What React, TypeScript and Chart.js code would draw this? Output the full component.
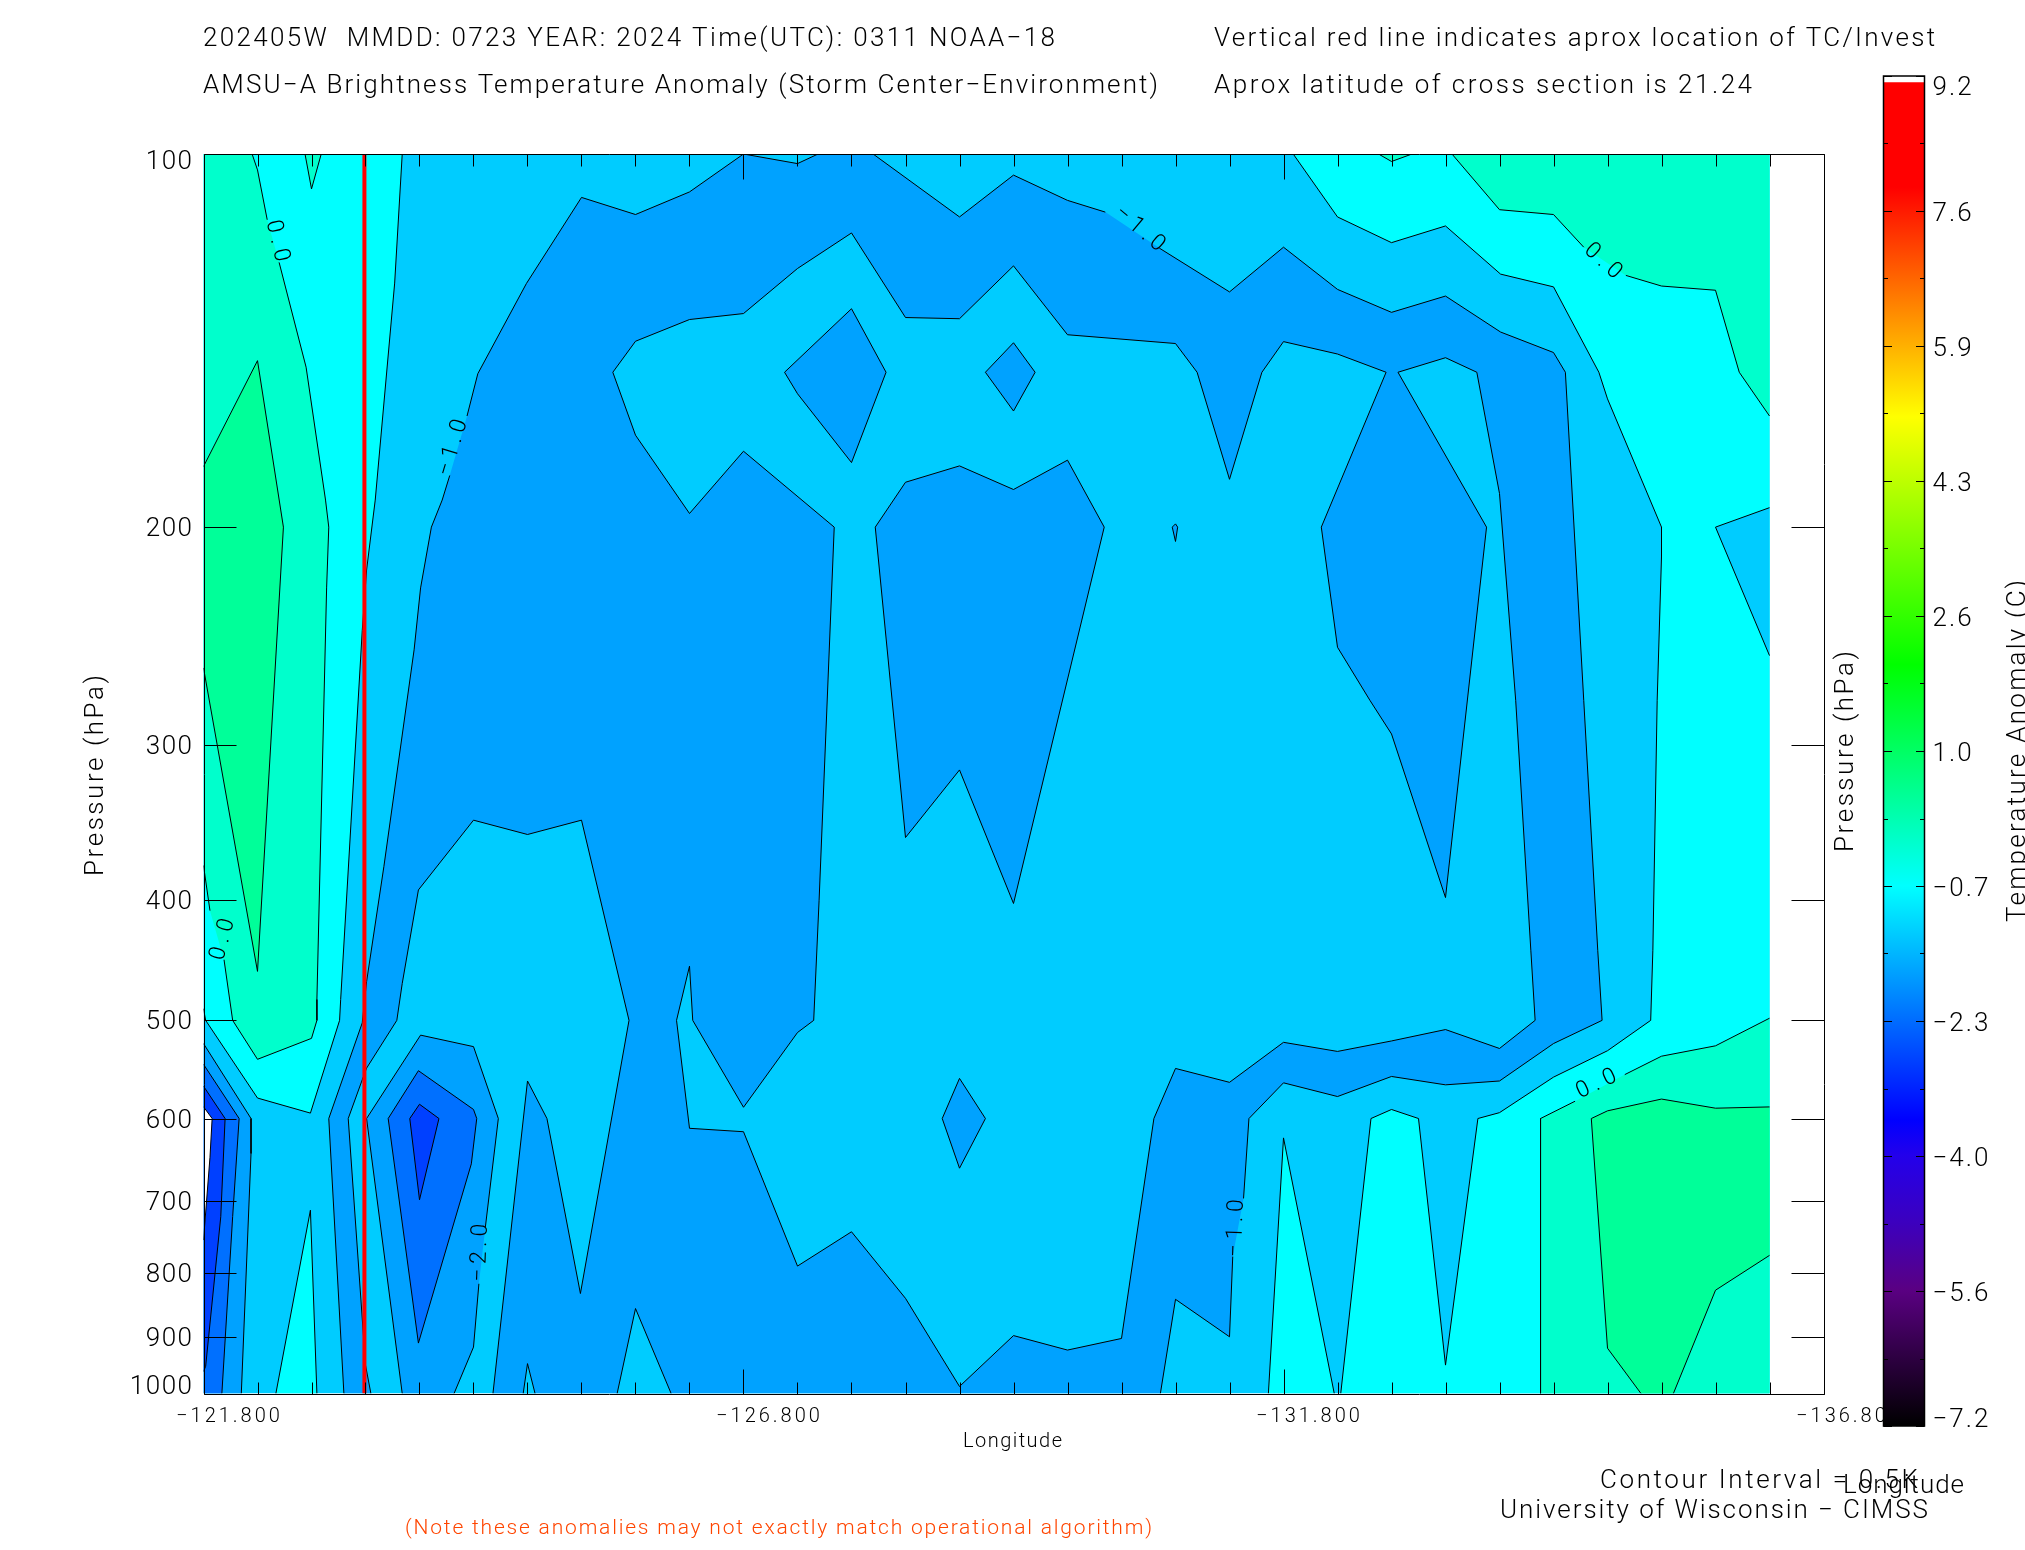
import React, { useEffect, useRef } from "react";
import { Chart, registerables } from "chart.js";
Chart.register(...registerables);

// ---------- data: contour outlines as [longitude, pressure, (1 = label gap after this vertex)] ----------
type V = number[];
const lonEast = -121.8, lonDataWest = -136.3, lonAxisWest = -136.8;
const pTop = 100, pBottom = 1000;
const stormLon = -123.29;
const pressureTicks = [100, 200, 300, 400, 500, 600, 700, 800, 900, 1000];
const lonLabelTicks = [-121.8, -126.8, -131.8, -136.8];

const AQUA = "#00FFCC", GREEN = "#00FF99", CYAN = "#00FFFF", LIGHT = "#00CCFF", MID = "#00A2FF", DEEP = "#0070FF", DARK = "#0040FF", WHITE = "#FFFFFF";

const domain: V[] = [[-121.8, 100], [-136.3, 100], [-136.3, 1000], [-121.8, 1000]];
const cyanWest: V[] = [[-121.8, 100], [-123.64, 100], [-123.57, 127.1], [-123.39, 190.2], [-123.31, 216.6], [-123.27, 242.3], [-123.07, 481], [-123.06, 500], [-122.79, 594], [-122.3, 577.6], [-121.82, 500], [-121.8, 489.3]];
const aquaWest: V[] = [[-121.8, 100], [-122.25, 100], [-122.3, 103], [-122.39, 113, 1], [-122.5, 122.3], [-122.75, 148.6], [-122.93, 190.2], [-122.96, 200], [-122.94, 223.9], [-122.85, 481], [-122.85, 500], [-122.8, 517], [-122.3, 537.5], [-122.07, 500], [-121.99, 446.7, 1], [-121.86, 407.8], [-121.8, 375]];
const greenWest: V[] = [[-121.8, 178.7], [-122.3, 146.8], [-122.54, 200], [-122.3, 456.5], [-121.8, 259.8]];
const aquaTopSpike: V[] = [[-122.74, 100], [-122.8, 106.7], [-122.89, 100]];
const cyanBottomSpike: V[] = [[-122.47, 1000], [-122.79, 711.4], [-122.85, 1000]];
const cyanEast: V[] = [[-131.89, 100], [-132.3, 112.4], [-132.8, 117.9], [-133.3, 114.3], [-133.81, 125], [-134.3, 128], [-134.72, 150], [-134.8, 157.6], [-135.3, 200], [-135.3, 211.3], [-135.26, 275.9], [-135.22, 438.9], [-135.2, 500], [-134.8, 529], [-134.3, 555.6], [-133.8, 593.5], [-133.6, 600], [-133.3, 948.6], [-133.05, 600], [-132.8, 590], [-132.61, 600], [-132.33, 1000], [-136.3, 1000], [-136.3, 100]];
const cyanSpikeEast: V[] = [[-131.66, 1000], [-131.8, 622], [-132.27, 1000]];
const lightEdgeBlob: V[] = [[-136.3, 192.9], [-135.8, 200], [-136.3, 253.9]];
const aquaNorthEast: V[] = [[-133.36, 100], [-133.8, 110.9], [-134.3, 111.9], [-134.58, 118.9, 1], [-134.97, 125.3], [-135.3, 127.8], [-135.8, 128.8], [-136.02, 150], [-136.3, 162.7], [-136.3, 100]];
const aquaTopWedge: V[] = [[-132.68, 100], [-132.8, 101.4], [-132.99, 100]];
const aquaSouthEast: V[] = [[-136.3, 498], [-135.8, 524.2], [-135.3, 534.4], [-134.96, 553, 1], [-134.5, 581], [-134.18, 600], [-134.18, 1000], [-136.3, 1000]];
const greenSouthEast: V[] = [[-136.3, 587.2], [-135.8, 588.6], [-135.3, 578.7], [-134.8, 591.5], [-134.65, 600], [-134.8, 919.3], [-135.11, 1000], [-135.41, 1000], [-135.8, 825.4], [-136.3, 773.7]];
const midMain: V[] = [[-124.79, 127.2], [-125.3, 108.4], [-125.8, 111.9], [-126.3, 107.3], [-126.8, 100], [-127.3, 101.8], [-127.49, 100], [-128.0, 100], [-128.8, 112.4], [-129.3, 104], [-129.8, 109], [-130.15, 111.4, 1], [-130.65, 119.1], [-131.3, 129.2], [-131.8, 118.9], [-132.3, 128.6], [-132.8, 134.2], [-133.3, 130.2], [-133.81, 139.2], [-134.3, 144.6], [-134.41, 150], [-134.58, 275.9], [-134.71, 439.3], [-134.75, 500], [-134.3, 522], [-133.8, 559.6], [-133.3, 563.6], [-132.8, 554.9], [-132.3, 576], [-131.8, 561.5], [-131.48, 600], [-131.43, 696, 1], [-131.33, 775.4], [-131.3, 900], [-130.8, 839.5], [-130.66, 1000], [-124.48, 1000], [-124.8, 559.6], [-124.98, 600], [-125.29, 830.5], [-125.74, 500], [-125.3, 344.7], [-124.8, 354], [-124.3, 344.7], [-123.79, 392.4], [-123.64, 466.9], [-123.59, 500], [-123.31, 546.4], [-123.27, 558.3], [-123.14, 600], [-123.3, 948.6], [-123.35, 1000], [-123.1, 1000], [-122.96, 600], [-123.27, 502.3], [-123.31, 465.3], [-123.47, 375.8], [-123.75, 251.2], [-123.81, 223.9], [-123.91, 200], [-124.01, 190.2], [-124.08, 181.7, 1], [-124.24, 162.7], [-124.34, 150.4]];
const lightSpikeA: V[] = [[-124.76, 1000], [-124.8, 946], [-124.87, 1000]];
const lightSpikeB: V[] = [[-125.63, 1000], [-125.8, 854], [-126.13, 1000]];
const lightCore: V[] = [[-125.59, 150], [-125.8, 141.6], [-126.3, 136], [-126.8, 134.5], [-127.3, 123.7], [-127.8, 115.8], [-128.3, 135.5], [-128.8, 135.8], [-129.3, 123.1], [-129.8, 139.9], [-130.8, 142.2], [-131.0, 150], [-131.3, 183], [-131.6, 150], [-131.8, 141.7], [-132.3, 145], [-132.75, 150], [-132.15, 200], [-132.3, 250], [-132.6, 275.9], [-132.8, 293.7], [-133.3, 398], [-133.68, 200], [-132.86, 150], [-133.3, 146], [-133.59, 150], [-133.8, 187.9], [-133.95, 275.9], [-134.09, 438.9], [-134.13, 500], [-133.8, 526.8], [-133.3, 508.6], [-132.8, 519.5], [-132.3, 529.7], [-131.8, 520.8], [-131.3, 561], [-130.8, 546.7], [-130.6, 600], [-130.3, 902.8], [-129.8, 922.5], [-129.3, 898], [-128.8, 987], [-128.3, 838], [-127.8, 740.5], [-127.3, 789.2], [-126.8, 614.9], [-126.3, 611], [-126.18, 500], [-126.3, 452.1], [-126.33, 500], [-126.8, 587.6], [-127.3, 511.4], [-127.45, 500], [-127.5, 400], [-127.64, 200], [-126.8, 173.7], [-126.3, 195], [-125.8, 168.6]];
const midDiamondA: V[] = [[-127.8, 133.3], [-128.12, 150], [-127.8, 177.4], [-127.3, 156.1], [-127.18, 150]];
const midDiamondB: V[] = [[-129.3, 142], [-129.5, 150], [-129.3, 161.2], [-129.04, 150]];
const midTooth: V[] = [[-128.02, 200], [-128.3, 184], [-128.8, 178.5], [-129.3, 186.5], [-129.8, 176.6], [-130.14, 200], [-129.3, 402.4], [-128.8, 314], [-128.3, 356]];
const midSpeck: V[] = [[-130.77, 200], [-130.8, 198.8], [-130.82, 200], [-130.8, 205.4]];
const midDiamondC: V[] = [[-128.8, 556.9], [-129.04, 600], [-128.8, 658], [-128.64, 600]];
const midPit: V[] = [[-123.31, 600], [-123.81, 513.9], [-124.3, 525], [-124.53, 600], [-124.41, 733.9, 1], [-124.35, 815.6], [-124.3, 917.4], [-124.12, 1000], [-123.64, 1000]];
const deepPit: V[] = [[-123.79, 549], [-124.3, 590], [-124.33, 600], [-124.28, 652.7], [-123.79, 910.6], [-123.51, 600]];
const darkPit: V[] = [[-123.8, 584.3], [-123.98, 600], [-123.8, 697.8], [-123.71, 600]];
const midEdge: V[] = [[-121.8, 522], [-122.24, 600], [-122.24, 640.3], [-122.15, 1000], [-121.8, 1000]];
const deepEdge: V[] = [[-121.8, 542.5], [-122.13, 600], [-122.07, 719.9], [-121.97, 1000], [-121.8, 1000]];
const darkEdge: V[] = [[-121.8, 565], [-122.0, 600], [-121.96, 720], [-121.82, 950.7], [-121.8, 960]];
const whiteEdge: V[] = [[-121.8, 587], [-121.88, 600], [-121.86, 644.8], [-121.8, 752]];

// paint order: first listed is painted first
const bands: [V[], string][] = [
  [domain, LIGHT], [cyanWest, CYAN], [aquaWest, AQUA], [greenWest, GREEN], [aquaTopSpike, AQUA], [cyanBottomSpike, CYAN],
  [cyanEast, CYAN], [cyanSpikeEast, CYAN], [lightEdgeBlob, LIGHT], [aquaNorthEast, AQUA], [aquaTopWedge, AQUA], [aquaSouthEast, AQUA], [greenSouthEast, GREEN],
  [midMain, MID], [lightSpikeA, LIGHT], [lightSpikeB, LIGHT], [lightCore, LIGHT], [midDiamondA, MID], [midDiamondB, MID], [midTooth, MID], [midSpeck, MID], [midDiamondC, MID],
  [midPit, MID], [deepPit, DEEP], [darkPit, DARK], [midEdge, MID], [deepEdge, DEEP], [darkEdge, DARK], [whiteEdge, WHITE],
];

const contourLabels: [string, number, number, number, number][] = [
  ["0.0", -122.5, 117.4, 77, 42], ["0.0", -121.96, 429.8, -75, 42], ["\u22121.0", -124.09, 172.4, -73, 58], ["\u22121.0", -130.48, 114.6, 40, 58],
  ["0.0", -134.77, 121.7, 42, 42], ["0.0", -134.69, 561, -25, 42], ["\u22122.0", -124.34, 770, -88, 58], ["\u22121.0", -131.34, 735.5, -88, 58],
];

// colour bar
const cbMin = -7.2, cbMax = 9.2, cbFillTop = 9.12;
const cbTickValues = [-7.2, -5.56, -3.92, -2.28, -0.64, 1.0, 2.64, 4.28, 5.92, 7.56, 9.2];
const cbTickLabels = ["\u22127.2", "\u22125.6", "\u22124.0", "\u22122.3", "\u22120.7", "1.0", "2.6", "4.3", "5.9", "7.6", "9.2"];
const cbMinorTicks = [-6.38, -4.74, -3.1, -1.46, 0.18, 1.82, 3.46, 5.1, 6.74, 8.38];
const cbStopValues = [-7.2, -5.55, -4.73, -3.91, -3.48, -0.64, 2.05, 5.06, 6.45, 7.85, 9.2];
const cbStopColors = ["#000000", "#5A0082", "#3C00BE", "#2300EB", "#0000FF", "#00FFFF", "#00FF00", "#FFFF00", "#FF8000", "#FF0000", "#FF0000"];

// text
const THIN = "Roboto";
const headerTexts: [string, number, number, number, number, string][] = [
  ["202405W  MMDD: 0723 YEAR: 2024 Time(UTC): 0311 NOAA\u221218", 203, 1055, 46, 26, "#000"],
  ["AMSU\u2212A Brightness Temperature Anomaly (Storm Center\u2212Environment)", 203, 1158, 93, 26, "#000"],
  ["Vertical red line indicates aprox location of TC/Invest", 1214, 1935, 46, 26, "#000"],
  ["Aprox latitude of cross section is 21.24", 1214, 1752, 93, 26, "#000"],
  ["Longitude", 963, 1062, 1447, 20, "#000"],
  ["Contour Interval = 0.5K", 1600, 1918, 1488, 26, "#000"],
  ["Longitude", 1843, 1964, 1493, 26, "#000"],
  ["University of Wisconsin \u2212 CIMSS", 1500, 1928, 1518, 26, "#000"],
  ["(Note these anomalies may not exactly match operational algorithm)", 405, 1152, 1534, 21, "#FF4500"],
];
const sideTexts: [string, number, number, number][] = [
  ["Pressure (hPa)", 103, 876, 675],
  ["Pressure (hPa)", 1853, 852, 651],
];
const cbTitle = "Temperature Anomaly (C)";

function fitText(ctx: any, text: string, x: number, y: number, len: number, font: string, color: string, rot = 0, center = false) {
  ctx.save();
  ctx.font = font;
  ctx.fillStyle = color;
  ctx.textBaseline = "alphabetic";
  ctx.textAlign = "left";
  ctx.letterSpacing = "0px";
  const w = ctx.measureText(text).width;
  ctx.letterSpacing = (len - w) / Math.max(1, text.length - 1) + "px";
  ctx.translate(x, y);
  ctx.rotate((rot * Math.PI) / 180);
  ctx.fillText(text, center ? -len / 2 : 0, center ? 8 : 0);
  ctx.restore();
}

function patchScale(scale: any, spacing: number, shifts: Record<string, number>, allShift = 0) {
  if (scale.__patched) return;
  scale.__patched = true;
  const draw = scale.drawLabels.bind(scale);
  scale.drawLabels = (ca: any) => {
    const c = scale.ctx;
    c.save();
    c.letterSpacing = spacing + "px";
    draw(ca);
    c.restore();
  };
  const comp = scale._computeLabelItems.bind(scale);
  scale._computeLabelItems = (ca: any) => {
    const items = comp(ca);
    items.forEach((o: any) => {
      o.options.translation[1] += allShift + (shifts[o.label] || 0);
    });
    return items;
  };
}

const framePlugin = {
  id: "frame",
  afterDatasetsDraw(chart: any) {
    const { ctx, chartArea: a, scales } = chart;
    ctx.save();
    ctx.strokeStyle = "#000";
    ctx.lineWidth = 1;
    const L = Math.round(a.left) + 0.5, R = Math.round(a.right) + 0.5, T = Math.round(a.top) + 0.5, B = Math.round(a.bottom) + 0.5;
    ctx.beginPath();
    ctx.rect(L, T, R - L, B - T);
    for (let k = 0; k <= 30; k++) {
      const lon = lonEast - k * 0.5;
      const x = Math.round(scales.x.getPixelForValue(lon)) + 0.5;
      const len = k % 10 === 0 ? 25 : 12;
      ctx.moveTo(x, T); ctx.lineTo(x, T + len);
      ctx.moveTo(x, B); ctx.lineTo(x, B - len);
    }
    for (const p of pressureTicks) {
      const y = Math.round(scales.y.getPixelForValue(p)) + 0.5;
      ctx.moveTo(L, y); ctx.lineTo(L + 32, y);
      ctx.moveTo(R, y); ctx.lineTo(R - 33, y);
    }
    ctx.stroke();
    ctx.restore();
    for (const [t, lon, p, rot, len] of contourLabels) {
      fitText(ctx, t, scales.x.getPixelForValue(lon), scales.y.getPixelForValue(p), len, `300 23px ${THIN}`, "#000", rot, true);
    }
    for (const [t, x0, x1, y, size, color] of headerTexts) fitText(ctx, t, x0, y, x1 - x0, `300 ${size}px ${THIN}`, color);
    for (const [t, x, y0, y1] of sideTexts) fitText(ctx, t, x, y0, y0 - y1, `300 26px ${THIN}`, "#000", -90);
  },
};

const cbPlugin = {
  id: "cbFrame",
  afterDatasetsDraw(chart: any) {
    const { ctx, chartArea: a, scales } = chart;
    ctx.save();
    ctx.strokeStyle = "#000";
    ctx.lineWidth = 1.5;
    ctx.strokeRect(a.left, a.top, a.right - a.left, a.bottom - a.top);
    ctx.lineWidth = 1;
    ctx.beginPath();
    for (const v of cbTickValues) {
      const y = Math.round(scales.y.getPixelForValue(v)) + 0.5;
      ctx.moveTo(a.left, y); ctx.lineTo(a.left + 8.5, y);
      ctx.moveTo(a.right, y); ctx.lineTo(a.right - 8.5, y);
    }
    for (const v of cbMinorTicks) {
      const y = Math.round(scales.y.getPixelForValue(v)) + 0.5;
      ctx.moveTo(a.left, y); ctx.lineTo(a.left + 4.5, y);
      ctx.moveTo(a.right, y); ctx.lineTo(a.right - 4.5, y);
    }
    ctx.stroke();
    ctx.restore();
    fitText(ctx, cbTitle, 175, 862, 342, `300 26px ${THIN}`, "#000", -90);
  },
};

const closed = (pts: V[]) => [...pts, pts[0]];

export default function App() {
  const mainRef = useRef<HTMLCanvasElement>(null);
  const barRef = useRef<HTMLCanvasElement>(null);
  useEffect(() => {
    const n = bands.length;
    const datasets: any[] = [];
    bands.forEach(([pts, color], i) => {
      const ring = closed(pts);
      const data = ring.map((v) => ({ x: v[0], y: v[1] }));
      // the filled area
      datasets.push({
        type: "scatter", showLine: true, data,
        backgroundColor: color, borderWidth: 0, borderColor: color,
        pointRadius: 0, tension: 0, fill: "shape",
        order: 2 * (n - i) + 2,
      });
      // its contour line, open along the data edge and at the label gaps
      if (i > 0) {
        datasets.push({
          type: "scatter", showLine: true, data,
          borderColor: "#000", borderWidth: 1,
          pointRadius: 0, tension: 0, fill: false,
          order: 2 * (n - i) + 1,
          segment: {
            borderColor: (c: any) => {
              const a = ring[c.p0DataIndex], b = ring[c.p1DataIndex];
              if (!a || !b) return "#000";
              if (a[2]) return "rgba(0,0,0,0)";
              const vertEdge = a[0] === b[0] && (a[0] === lonEast || a[0] === lonDataWest);
              const horEdge = a[1] === b[1] && (a[1] === pTop || a[1] === pBottom);
              return vertEdge || horEdge ? "rgba(0,0,0,0)" : "#000";
            },
          },
        });
      }
    });
    datasets.push({
      type: "scatter",
      showLine: true,
      data: [{ x: stormLon, y: pTop }, { x: stormLon, y: pBottom }],
      borderColor: "#FF0000",
      borderWidth: 4,
      pointRadius: 0,
      fill: false,
      order: 0,
    });
    const main = new Chart(mainRef.current!, {
      type: "scatter",
      data: { datasets },
      plugins: [framePlugin],
      options: {
        animation: false,
        responsive: false,
        devicePixelRatio: 1,
        layout: { padding: { left: 0, top: 154, right: 201.5, bottom: 0 } },
        plugins: { legend: { display: false }, tooltip: { enabled: false }, title: { display: false } },
        scales: {
          x: {
            type: "linear",
            reverse: true,
            min: lonAxisWest,
            max: lonEast,
            grid: { display: false },
            border: { display: false },
            afterBuildTicks: (s: any) => { s.ticks = lonLabelTicks.map((value) => ({ value })); },
            afterFit: (s: any) => {
              s.height = 156.5; s.paddingLeft = 0; s.paddingRight = 0;
              patchScale(s, 3, {});
            },
            ticks: {
              autoSkip: false, maxRotation: 0, minRotation: 0, labelOffset: 26, padding: 3, color: "#000",
              font: { family: THIN, size: 20, weight: "300" },
              callback: (v: any) => "\u2212" + Math.abs(Number(v)).toFixed(3),
            },
          },
          y: {
            type: "logarithmic",
            reverse: true,
            min: pTop,
            max: pBottom,
            grid: { display: false },
            border: { display: false },
            afterBuildTicks: (s: any) => { s.ticks = pressureTicks.map((value) => ({ value })); },
            afterFit: (s: any) => {
              s.width = 203.5; s.paddingTop = 0; s.paddingBottom = 0;
              patchScale(s, 1.5, { "100": 6, "1000": -9 }, 2.5);
            },
            ticks: {
              autoSkip: false, padding: 2, color: "#000",
              font: { family: THIN, size: 26, weight: "300" },
              callback: (v: any) => String(v),
            },
          },
        },
      },
    } as any);

    const bar = new Chart(barRef.current!, {
      type: "bar",
      data: {
        labels: ["anomaly"],
        datasets: [{
          data: [[cbMin, cbFillTop]],
          barPercentage: 1,
          categoryPercentage: 1,
          borderWidth: 0,
          backgroundColor: (c: any) => {
            const s = c.chart.scales.y;
            if (!s || !c.chart.chartArea) return "#000";
            const g = c.chart.ctx.createLinearGradient(0, s.getPixelForValue(cbMin), 0, s.getPixelForValue(cbMax));
            cbStopValues.forEach((v, i) => g.addColorStop((v - cbMin) / (cbMax - cbMin), cbStopColors[i]));
            return g;
          },
        }],
      },
      plugins: [cbPlugin],
      options: {
        animation: false,
        responsive: false,
        devicePixelRatio: 1,
        layout: { padding: { left: 33.5, top: 16, right: 0, bottom: 34 } },
        plugins: { legend: { display: false }, tooltip: { enabled: false } },
        scales: {
          x: { display: false },
          y: {
            position: "right",
            min: cbMin,
            max: cbMax,
            grid: { display: false },
            border: { display: false },
            afterBuildTicks: (s: any) => { s.ticks = cbTickValues.map((value) => ({ value })); },
            afterFit: (s: any) => {
              s.width = 100.5; s.paddingTop = 0; s.paddingBottom = 0;
              patchScale(s, 2, { "9.2": 9, "\u22127.2": -9 }, 3);
            },
            ticks: {
              autoSkip: false, padding: 0, color: "#000",
              font: { family: THIN, size: 26, weight: "300" },
              callback: (v: any) => cbTickLabels[cbTickValues.indexOf(Number(v))],
            },
          },
        },
      },
    } as any);
    return () => { main.destroy(); bar.destroy(); };
  }, []);
  return (
    <div style={{ position: "absolute", left: 0, top: 0, width: 2025, height: 1550, overflow: "hidden", background: "#fff" }}>
      <canvas ref={mainRef} width={2025} height={1550} style={{ position: "absolute", left: 0, top: 0 }} />
      <canvas ref={barRef} width={175} height={1400} style={{ position: "absolute", left: 1850, top: 60 }} />
    </div>
  );
}
